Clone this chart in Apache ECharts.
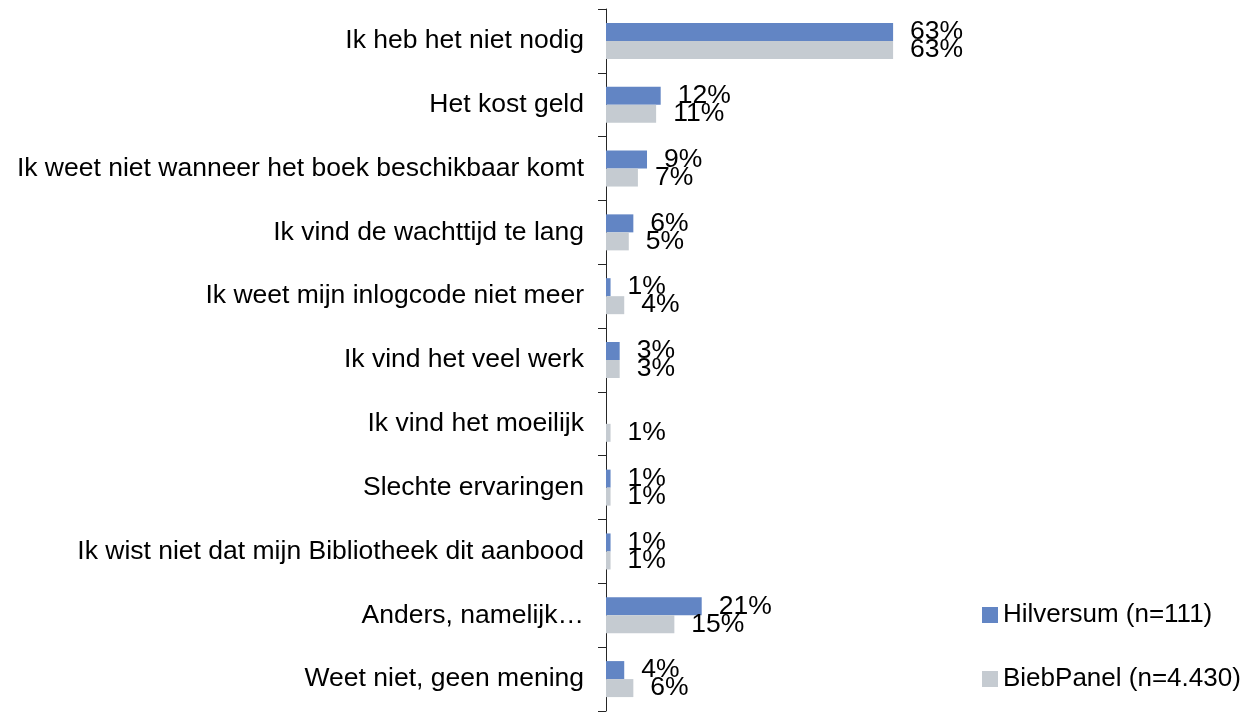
<!DOCTYPE html>
<html>
<head>
<meta charset="utf-8">
<script src="https://cdn.jsdelivr.net/npm/echarts@6/dist/echarts.min.js"></script>
<style>
  html, body { margin: 0; padding: 0; background: #ffffff; }
  #chart { width: 1244px; height: 714px; }
</style>
</head>
<body>
<div id="chart"></div>
<script>
// Reasons for not using the e-book service, in percent
const categories = [
  'Ik heb het niet nodig',
  'Het kost geld',
  'Ik weet niet wanneer het boek beschikbaar komt',
  'Ik vind de wachttijd te lang',
  'Ik weet mijn inlogcode niet meer',
  'Ik vind het veel werk',
  'Ik vind het moeilijk',
  'Slechte ervaringen',
  'Ik wist niet dat mijn Bibliotheek dit aanbood',
  'Anders, namelijk…',
  'Weet niet, geen mening'
];
const hilversum = [63, 12, 9, 6, 1, 3, 0, 1, 1, 21, 4];
const biebPanel = [63, 11, 7, 5, 4, 3, 1, 1, 1, 15, 6];
const seriesNames = ['Hilversum (n=111)', 'BiebPanel (n=4.430)'];

const FONT = "'Liberation Sans', Arial, sans-serif";
const FONT_SIZE = 26.5;
const colors = ['#6285c4', '#c5cbd1'];

const chart = echarts.init(document.getElementById('chart'), null, { renderer: 'canvas' });

function labelCfg() {
  return {
    show: true,
    position: 'right',
    distance: 17,
    fontFamily: FONT,
    fontSize: FONT_SIZE,
    color: '#000000',
    formatter: p => (p.value ? p.value + '%' : '')
  };
}

chart.setOption({
  animation: false,
  backgroundColor: '#ffffff',
  grid: { left: 606, top: 9, width: 319, height: 702, containLabel: false },
  xAxis: {
    type: 'value',
    min: 0,
    max: 70,
    show: false
  },
  yAxis: {
    type: 'category',
    data: categories,
    inverse: true,
    axisLine: { show: true, lineStyle: { color: '#262626', width: 1 } },
    axisTick: { show: true, length: 8, lineStyle: { color: '#262626', width: 1 } },
    axisLabel: {
      margin: 22,
      fontFamily: FONT,
      fontSize: FONT_SIZE,
      color: '#000000'
    },
    splitLine: { show: false }
  },
  legend: {
    orient: 'vertical',
    left: 977,
    top: 597,
    itemWidth: 16,
    itemHeight: 16,
    itemGap: 38,
    icon: 'rect',
    textStyle: { fontFamily: FONT, fontSize: 26, color: '#000000', lineHeight: 26 },
    data: seriesNames
  },
  series: [
    {
      name: seriesNames[0],
      type: 'bar',
      data: hilversum,
      barWidth: 18,
      barGap: '0%',
      itemStyle: { color: colors[0] },
      label: labelCfg()
    },
    {
      name: seriesNames[1],
      type: 'bar',
      data: biebPanel,
      barWidth: 18,
      barGap: '0%',
      itemStyle: { color: colors[1] },
      label: labelCfg()
    }
  ]
});
</script>
</body>
</html>
